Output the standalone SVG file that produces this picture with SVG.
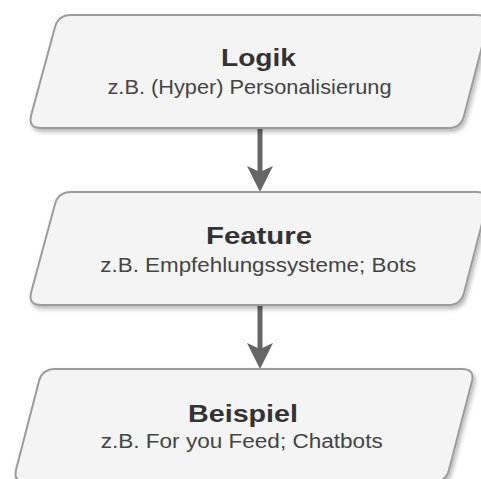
<svg xmlns="http://www.w3.org/2000/svg" width="481" height="479" viewBox="0 0 481 479">
<defs>
<filter id="sh" x="-10%" y="-10%" width="130%" height="140%">
<feDropShadow dx="2" dy="3" stdDeviation="2" flood-color="#000" flood-opacity="0.28"/>
</filter>
</defs>
<style>
.box{fill:#f4f4f4;stroke:#9c9c9c;stroke-width:2;filter:url(#sh)}
.t{font-family:"Liberation Sans",Arial,sans-serif;font-weight:bold;font-size:24px;fill:#333;text-anchor:middle}
.s{font-family:"Liberation Sans",Arial,sans-serif;font-size:20px;fill:#444;text-anchor:middle}
.ln{stroke:#666;stroke-width:5;fill:none}
.hd{fill:#666}
</style>
<g id="connectors">
<line class="ln" x1="260" y1="129" x2="260" y2="172"/>
<path class="hd" d="M247,166 L260,192 L273,166 L260,172 Z"/>
<line class="ln" x1="260" y1="306" x2="260" y2="349"/>
<path class="hd" d="M247,343 L260,369 L273,343 L260,349 Z"/>
</g>
<g id="logik">
<path class="box" d="M71,15 L477,15 Q490,15 486.9,27.6 L464.1,115.4 Q461,128 448,128 L41,128 Q28,128 31.1,115.4 L54.9,27.6 Q58,15 71,15 Z"/>
<text class="t" x="258.5" y="65.5" textLength="75" lengthAdjust="spacingAndGlyphs">Logik</text>
<text class="s" x="249.5" y="94" textLength="284" lengthAdjust="spacingAndGlyphs">z.B. (Hyper) Personalisierung</text>
</g>
<g id="feature">
<path class="box" d="M71,192 L477,192 Q490,192 486.9,204.6 L464.1,292.4 Q461,305 448,305 L41,305 Q28,305 31.1,292.4 L54.9,204.6 Q58,192 71,192 Z"/>
<text class="t" x="259" y="244" textLength="106" lengthAdjust="spacingAndGlyphs">Feature</text>
<text class="s" x="258.3" y="272" textLength="316" lengthAdjust="spacingAndGlyphs">z.B. Empfehlungssysteme; Bots</text>
</g>
<g id="beispiel">
<path class="box" d="M55,369 L462,369 Q475,369 471.9,381.6 L449.1,469.4 Q446,482 433,482 L26,482 Q13,482 16.1,469.4 L38.9,381.6 Q42,369 55,369 Z"/>
<text class="t" x="243" y="421.5" textLength="110" lengthAdjust="spacingAndGlyphs">Beispiel</text>
<text class="s" x="241.7" y="447.5" textLength="282" lengthAdjust="spacingAndGlyphs">z.B. For you Feed; Chatbots</text>
</g>
</svg>
